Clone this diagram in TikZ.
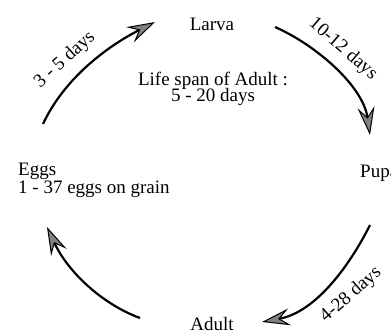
\documentclass[tikz,border=0pt]{standalone}
\usepackage{fontspec}
\setmainfont{Liberation Serif}
\usetikzlibrary{arrows.meta}
\begin{document}
\begin{tikzpicture}[x=1pt,y=-1pt,
  lbl/.style={font=\fontsize{19}{19}\selectfont, inner sep=0pt},
  cyc/.style={line width=2.2pt, -{Stealth[length=28pt,width=17pt,inset=10pt,line width=1pt,fill=black!50]}}]
\useasboundingbox (0,0) rectangle (391,335);
\clip (0,0) rectangle (391,335);
% stage labels
\node[lbl, anchor=base] (larva) at (212,30) {Larva};
\node[lbl, anchor=base west] (pupa) at (360,177) {Pupa};
\node[lbl, anchor=base] (adult) at (212,330) {Adult};
\node[lbl, anchor=base west] (eggs) at (18,175) {Eggs};
\node[lbl, anchor=base west] (eggsnote) at (18,193) {1 - 37 eggs on grain};
\node[lbl, anchor=base] (span1) at (213,85) {Life span of Adult :};
\node[lbl, anchor=base] (span2) at (213,101) {5 - 20 days};
% arrow ends
\coordinate (a1s) at (43,124);  \coordinate (a1e) at (155,22);
\coordinate (a2s) at (275,27);  \coordinate (a2e) at (370,135);
\coordinate (a3s) at (370,225); \coordinate (a3e) at (262,322);
\coordinate (a4s) at (140,318); \coordinate (a4e) at (47,227);
\draw[cyc] (a1s) .. controls (64,79) and (106,47) .. (a1e);
\draw[cyc] (a2s) .. controls (316,45) and (363,86) .. (a2e);
\draw[cyc] (a3s) .. controls (350,265) and (316,312) .. (a3e);
\draw[cyc] (a4s) .. controls (102,304) and (68,272) .. (a4e);
% durations
\node[lbl, rotate=42] (d1) at (65,60) {3 - 5 days};
\node[lbl, rotate=-41] (d2) at (343,49) {10-12 days};
\node[lbl, rotate=41] (d3) at (351,295) {4-28 days};
\end{tikzpicture}
\end{document}
